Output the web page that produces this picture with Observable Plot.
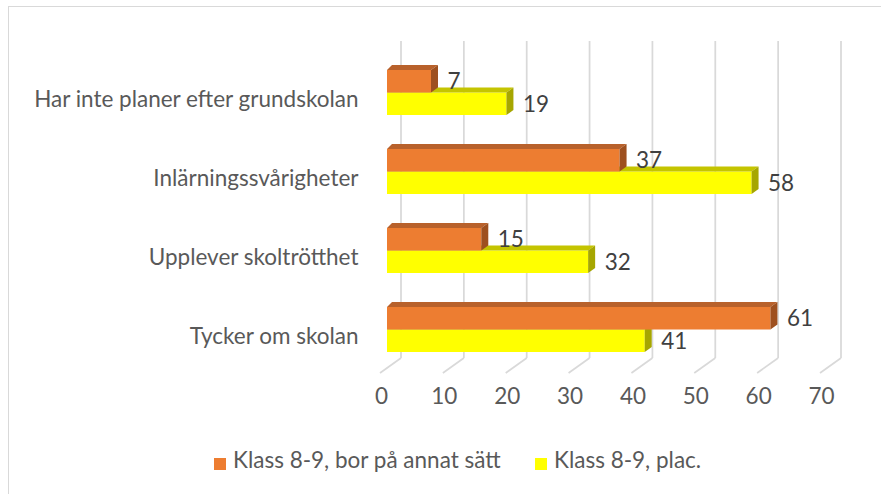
<!DOCTYPE html>
<html>
<head>
<meta charset="utf-8">
<script src="https://cdn.jsdelivr.net/npm/d3@7"></script>
<script src="https://cdn.jsdelivr.net/npm/@observablehq/plot@0.6"></script>
<style>
  html, body { margin: 0; padding: 0; background: #fff; overflow: hidden; }
  #wrap { position: relative; width: 881px; height: 494px; }
  #border { position: absolute; left: 8px; top: 6px; width: 900px; height: 500px;
            border-left: 1.5px solid #d9d9d9; border-top: 1.5px solid #d9d9d9; }
  #chart { position: absolute; left: 0; top: 0; }
  #legend { position: absolute; left: 0; top: 440px; }
</style>
</head>
<body>
<div id="wrap"><div id="border"></div><div id="chart"></div><div id="legend"></div></div>
<script>
const categories = ["Har inte planer efter grundskolan", "Inlärningssvårigheter", "Upplever skoltrötthet", "Tycker om skolan"];
const seriesNames = ["Klass 8-9, bor på annat sätt", "Klass 8-9, plac."];
const orangeValues = [7, 37, 15, 61];
const yellowValues = [19, 58, 32, 41];
const xTicks = [0, 10, 20, 30, 40, 50, 60, 70];

const COLORS = {
  orange: {front: "#ED7D31", top: "#B8612B", side: "#9E501F"},
  yellow: {front: "#FFFF00", top: "#C4C400", side: "#A6A600"}
};
const FONT = "Lato, 'Open Sans', sans-serif";
const FS = 22.5;
const DX = 7, DY = 5; // 3D depth of bars (px)

const orangeData = categories.map((c, i) => ({category: c, value: orangeValues[i], series: seriesNames[0]}));
const yellowData = categories.map((c, i) => ({category: c, value: yellowValues[i], series: seriesNames[1]}));

function bandwidthOf(y) { return typeof y.bandwidth === "function" ? y.bandwidth() : 45; }

function floorMark(index, scales, values, dimensions) {
  const g = d3.create("svg:g");
  const bottom = dimensions.height - dimensions.marginBottom;
  for (const t of xTicks) {
    const x = scales.x(t);
    g.append("line")
      .attr("x1", x + 14).attr("y1", bottom - 28)
      .attr("x2", x - 7).attr("y2", bottom - 13)
      .attr("stroke", "#d9d9d9").attr("stroke-width", 1.75);
  }
  return g.node();
}

function facesMark(data, colors, lower) {
  return (index, scales, values, dimensions) => {
    const g = d3.create("svg:g");
    const bw = bandwidthOf(scales.y);
    for (const d of data) {
      const x0 = scales.x(0), x1 = scales.x(d.value);
      const yTop = scales.y(d.category) + (lower ? bw / 2 : 0);
      const yBot = yTop + bw / 2;
      g.append("polygon")
        .attr("points", [[x0, yTop], [x1, yTop], [x1 + DX, yTop - DY], [x0 + DX - 2, yTop - DY]].map(p => p.join(",")).join(" "))
        .attr("fill", colors.top);
      g.append("polygon")
        .attr("points", [[x1, yTop], [x1 + DX, yTop - DY], [x1 + DX, yBot - DY], [x1, yBot]].map(p => p.join(",")).join(" "))
        .attr("fill", colors.side);
    }
    return g.node();
  };
}

const chart = Plot.plot({
  width: 881,
  height: 440,
  marginLeft: 387,
  marginRight: 54,
  marginTop: 36,
  marginBottom: 54,
  x: {domain: [0, 70], axis: null},
  y: {domain: categories, padding: 0.43, axis: null},
  style: {fontFamily: FONT, background: "transparent", overflow: "visible"},
  marks: [
    Plot.ruleX(xTicks, {x: d => d, dx: 13.5, insetTop: 5, insetBottom: 28, stroke: "#d9d9d9", strokeWidth: 1.75}),
    floorMark,
    Plot.barX(yellowData, {x: "value", y: "category", insetTop: 22.5, fill: COLORS.yellow.front}),
    facesMark(yellowData, COLORS.yellow, true),
    Plot.barX(orangeData, {x: "value", y: "category", insetBottom: 22.5, fill: COLORS.orange.front}),
    facesMark(orangeData, COLORS.orange, false),
    Plot.text(orangeData, {x: "value", y: "category", text: d => String(d.value), textAnchor: "start", dx: 16, dy: -11, fontSize: FS, fill: "#404040"}),
    Plot.text(yellowData, {x: "value", y: "category", text: d => String(d.value), textAnchor: "start", dx: 16, dy: 12, fontSize: FS, fill: "#404040"}),
    Plot.text(categories, {y: d => d, text: d => d, frameAnchor: "left", textAnchor: "end", dx: -29, dy: 7, fontSize: FS, fill: "#595959"}),
    Plot.text(xTicks, {x: d => d, text: d => String(d), frameAnchor: "bottom", dy: 17, dx: -6, fontSize: FS, fill: "#595959"})
  ]
});
document.getElementById("chart").appendChild(chart);

// Legend (below the chart)
const legend = d3.select("#legend").append("svg").attr("width", 881).attr("height", 54)
  .style("font-family", FONT);
const legendItems = [
  {name: seriesNames[0], color: COLORS.orange.front, x: 214},
  {name: seriesNames[1], color: COLORS.yellow.front, x: 535}
];
for (const it of legendItems) {
  legend.append("rect").attr("x", it.x).attr("y", 18).attr("width", 12).attr("height", 12).attr("fill", it.color);
  legend.append("text").attr("x", it.x + 19).attr("y", 27.5).attr("font-size", FS).attr("fill", "#595959").text(it.name);
}
</script>
</body>
</html>
